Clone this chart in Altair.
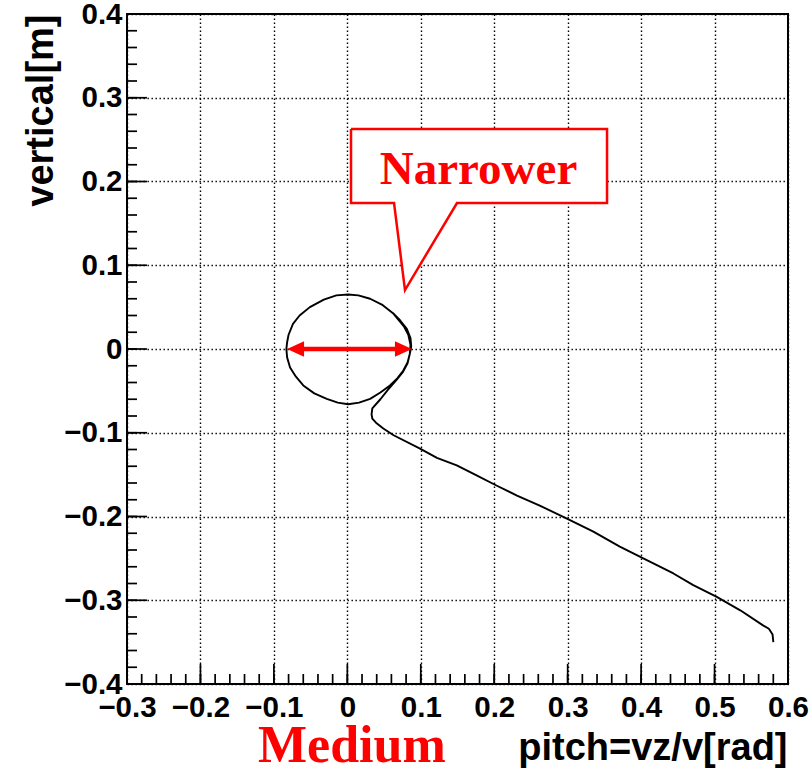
import altair as alt
import pandas as pd

# Track in the (pitch, vertical) plane: from the outer end of the tail into the closed loop
pitch = [
    0.580, 0.579, 0.574, 0.566, 0.535, 0.503, 0.471, 0.444, 0.403, 0.371,
    0.335, 0.299, 0.262, 0.231, 0.203, 0.176, 0.149, 0.122, 0.099, 0.063,
    0.049, 0.039, 0.034, 0.033, 0.034, 0.045, 0.056, 0.067, 0.076, 0.082,
    0.085, 0.086,
    0.083, 0.077, 0.063, 0.047, 0.031, 0.015, 0.001, -0.015, -0.032, -0.051,
    -0.065, -0.074, -0.080, -0.082, -0.083, -0.082, -0.078, -0.070, -0.060, -0.045,
    -0.028, -0.013, 0.001, 0.016, 0.031, 0.045, 0.058, 0.068, 0.076, 0.082,
    0.085, 0.087, 0.086, 0.081, 0.072, 0.062,
]
vertical = [
    -0.350, -0.341, -0.334, -0.330, -0.312, -0.296, -0.282, -0.268, -0.250, -0.236,
    -0.218, -0.2025, -0.187, -0.175, -0.163, -0.151, -0.139, -0.130, -0.119, -0.103,
    -0.095, -0.088, -0.083, -0.078, -0.071, -0.060, -0.048, -0.037, -0.027, -0.017,
    -0.006, 0.005,
    0.017, 0.027, 0.042, 0.053, 0.060, 0.064, 0.065, 0.064, 0.059, 0.050,
    0.040, 0.030, 0.017, 0.008, 0.000, -0.010, -0.022, -0.033, -0.0435, -0.053,
    -0.0595, -0.064, -0.066, -0.064, -0.0595, -0.052, -0.0435, -0.035, -0.026, -0.016,
    -0.006, 0.003, 0.013, 0.024, 0.034, 0.043,
]

x_major = [-0.3, -0.2, -0.1, 0.0, 0.1, 0.2, 0.3, 0.4, 0.5, 0.6]
y_major = [-0.4, -0.3, -0.2, -0.1, 0.0, 0.1, 0.2, 0.3, 0.4]
x_minor = [round(-0.3 + 0.02 * i, 2) for i in range(46)]
y_minor = [round(-0.4 + 0.02 * i, 2) for i in range(41)]

# width of the loop at vertical = 0
arrow_ends = [-0.0821, 0.0880]

# speech bubble: box corners, tail base and tail tip
bubble_x = [0.005, 0.3536]
bubble_y = [0.1743, 0.2627]
tail_base = [0.0636, 0.1493]
tail_tip = [0.0785, 0.0704]

W, H = 661, 670
FONT = "Liberation Sans"
SERIF = "Liberation Serif"
RED = "#ff0000"

xs = alt.Scale(domain=[-0.3, 0.6], nice=False, zero=False)
ys = alt.Scale(domain=[-0.4, 0.4], nice=False, zero=False)

label_style = dict(
    labelFont=FONT, labelFontSize=29.5, labelFontWeight="bold", labelColor="black",
    labelOverlap=False, labelFlush=False,
    titleFont=FONT, titleFontSize=38, titleFontWeight="bold", titleColor="black",
    grid=True, gridColor="black", gridDash=[1.4, 2.6], gridWidth=1.4, gridOpacity=1,
    ticks=False, domain=False, format=".1~f",
)

x_axis = alt.Axis(
    values=x_major, labelPadding=9, title="pitch=vz/v[rad]",
    titleAlign="right", titleBaseline="alphabetic", titleX=W - 1, titleY=75,
    **label_style,
)
y_axis = alt.Axis(
    values=y_major, labelPadding=5, title="vertical[m]",
    titleAngle=270, titleAlign="right", titleBaseline="alphabetic", titleX=-75, titleY=0,
    **label_style,
)

traj = pd.DataFrame({"pitch": pitch, "vertical": vertical, "step": list(range(len(pitch)))})

track = alt.Chart(traj).mark_line(color="black", strokeWidth=1.9, strokeJoin="round").encode(
    x=alt.X("pitch:Q", scale=xs, axis=x_axis),
    y=alt.Y("vertical:Q", scale=ys, axis=y_axis),
    order="step:Q",
)

# inward ticks on the bottom and left edges
xt_major = alt.Chart(pd.DataFrame({"v": x_major})).mark_rule(color="black", strokeWidth=1.7).encode(
    x=alt.X("v:Q", scale=xs), y=alt.value(H), y2=alt.value(H - 20))
xt_minor = alt.Chart(pd.DataFrame({"v": x_minor})).mark_rule(color="black", strokeWidth=1.7).encode(
    x=alt.X("v:Q", scale=xs), y=alt.value(H), y2=alt.value(H - 10))
yt_major = alt.Chart(pd.DataFrame({"v": y_major})).mark_rule(color="black", strokeWidth=1.7).encode(
    y=alt.Y("v:Q", scale=ys), x=alt.value(0), x2=alt.value(20))
yt_minor = alt.Chart(pd.DataFrame({"v": y_minor})).mark_rule(color="black", strokeWidth=1.7).encode(
    y=alt.Y("v:Q", scale=ys), x=alt.value(0), x2=alt.value(10))

# speech bubble with the "Narrower" label
box_fill = alt.Chart(pd.DataFrame({
    "x0": [bubble_x[0]], "x1": [bubble_x[1]], "y0": [bubble_y[0]], "y1": [bubble_y[1]],
})).mark_rect(color="white").encode(
    x=alt.X("x0:Q", scale=xs), x2="x1:Q",
    y=alt.Y("y0:Q", scale=ys), y2="y1:Q",
)
tail_fill = alt.Chart(pd.DataFrame({
    "yy": [bubble_y[0] + 0.002, tail_tip[1]],
    "xa": [tail_base[0], tail_tip[0]],
    "xb": [tail_base[1], tail_tip[0]],
})).mark_area(color="white", orient="horizontal").encode(
    y=alt.Y("yy:Q", scale=ys),
    x=alt.X("xa:Q", scale=xs), x2="xb:Q",
)
outline_pts = [
    (bubble_x[0], bubble_y[1]), (bubble_x[1], bubble_y[1]), (bubble_x[1], bubble_y[0]),
    (tail_base[1], bubble_y[0]), (tail_tip[0], tail_tip[1]), (tail_base[0], bubble_y[0]),
    (bubble_x[0], bubble_y[0]), (bubble_x[0], bubble_y[1]),
]
outline = alt.Chart(pd.DataFrame({
    "bx": [p[0] for p in outline_pts], "by": [p[1] for p in outline_pts],
    "k": list(range(len(outline_pts))),
})).mark_line(color=RED, strokeWidth=2.5, strokeJoin="miter").encode(
    x=alt.X("bx:Q", scale=xs),
    y=alt.Y("by:Q", scale=ys),
    order="k:Q",
)
narrower = alt.Chart(pd.DataFrame({"tx": [0.1786], "ty": [0.197], "t": ["Narrower"]})).mark_text(
    font=SERIF, fontSize=47, fontWeight="bold", color=RED, align="center", baseline="alphabetic",
).encode(
    x=alt.X("tx:Q", scale=xs), y=alt.Y("ty:Q", scale=ys), text="t:N")

# double-headed arrow across the loop
shaft = alt.Chart(pd.DataFrame({
    "a0": [arrow_ends[0] + 0.012], "a1": [arrow_ends[1] - 0.012], "ay": [0.0],
})).mark_rule(color=RED, strokeWidth=4.5).encode(
    x=alt.X("a0:Q", scale=xs), x2="a1:Q", y=alt.Y("ay:Q", scale=ys))
heads = alt.Chart(pd.DataFrame({
    "hx": arrow_ends, "hy": [0.0, 0.0], "ang": [180, 0],
})).mark_point(
    shape="M0,0 L-2,-0.9 L-2,0.9 Z", filled=True, color=RED, opacity=1, size=289, strokeWidth=0,
).encode(
    x=alt.X("hx:Q", scale=xs), y=alt.Y("hy:Q", scale=ys),
    angle=alt.Angle("ang:Q", scale=None),
)

medium = alt.Chart(pd.DataFrame({"tx": [-0.1216], "ty": [-0.4931], "t": ["Medium"]})).mark_text(
    font=SERIF, fontSize=52, fontWeight="bold", color=RED, align="left", baseline="alphabetic",
).encode(
    x=alt.X("tx:Q", scale=xs), y=alt.Y("ty:Q", scale=ys), text="t:N")

chart = alt.layer(
    track, xt_minor, xt_major, yt_minor, yt_major,
    box_fill, tail_fill, outline, narrower, shaft, heads, medium,
).properties(
    width=W, height=H,
    padding={"left": 127, "top": 14, "right": 23, "bottom": 87},
    autosize="none",
    background="white",
).configure_view(stroke="black", strokeWidth=2)

chart.save("out.html", embed_options={"renderer": "svg", "actions": False})
